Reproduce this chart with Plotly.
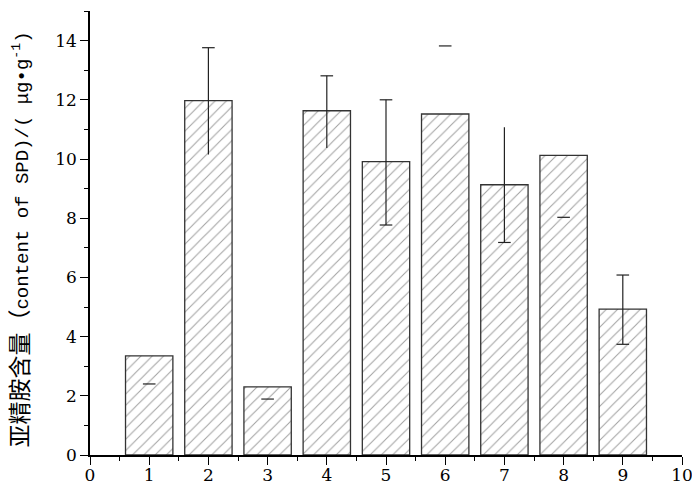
import plotly.graph_objects as go

# Data
samples = [1, 2, 3, 4, 5, 6, 7, 8, 9]
spd_content = [3.35, 11.97, 2.30, 11.63, 9.91, 11.52, 9.13, 10.12, 4.93]
# visible whisker segments (low, high); None = no whisker drawn
whisker_low = [None, 10.15, None, 10.37, 7.77, None, 7.18, None, 3.74]
whisker_high = [None, 13.76, None, 12.81, 12.00, None, 11.07, None, 6.08]
# visible error-bar caps (sample, value)
cap_x = [1, 2, 3, 4, 5, 5, 6, 7, 8, 9, 9]
cap_y = [2.40, 13.76, 1.89, 12.81, 12.00, 7.77, 13.82, 7.18, 8.03, 6.08, 3.74]

x_ticks = list(range(0, 11))
y_ticks = list(range(0, 15, 2))

fig = go.Figure()

fig.add_trace(go.Bar(
    x=samples, y=spd_content, width=0.8,
    marker=dict(color="white",
                line=dict(color="#333333", width=1.3),
                pattern=dict(shape="/", fgcolor="#444444", bgcolor="white",
                             size=8, solidity=0.13)),
    showlegend=False,
))

wx, wy = [], []
for s, lo, hi in zip(samples, whisker_low, whisker_high):
    if lo is None or hi is None:
        continue
    wx += [s, s, None]
    wy += [lo, hi, None]
fig.add_trace(go.Scatter(x=wx, y=wy, mode="lines",
                         line=dict(color="#222222", width=1.2),
                         showlegend=False, hoverinfo="skip"))
fig.add_trace(go.Scatter(x=cap_x, y=cap_y, mode="markers",
                         marker=dict(symbol="line-ew", size=9,
                                     line=dict(color="#222222", width=1.2)),
                         showlegend=False, hoverinfo="skip"))

tick_font = dict(family="DejaVu Serif", size=17, color="black")

fig.update_xaxes(range=[0, 10], tickvals=x_ticks, ticktext=[str(t) for t in x_ticks],
                 ticks="outside", ticklen=8, tickwidth=1.3, tickcolor="black",
                 minor=dict(dtick=0.5, tick0=0, ticks="outside", ticklen=4,
                            tickwidth=1.3, tickcolor="black"),
                 showline=True, linecolor="black", linewidth=1.5,
                 showgrid=False, zeroline=False, tickfont=tick_font,
                 ticklabelstandoff=-4, automargin=False)
fig.update_yaxes(range=[0, 15], tickvals=y_ticks, ticktext=[str(t) for t in y_ticks],
                 ticks="outside", ticklen=8, tickwidth=1.3, tickcolor="black",
                 minor=dict(dtick=1, tick0=0, ticks="outside", ticklen=4,
                            tickwidth=1.3, tickcolor="black"),
                 showline=True, linecolor="black", linewidth=1.5,
                 showgrid=False, zeroline=False, tickfont=tick_font,
                 automargin=False)

fig.add_annotation(
    text='<span style="font-size:23px">亚精胺含量（</span>content of SPD)/( μg•g<sup>-1</sup>)',
    xref="paper", yref="paper", x=-0.116, y=0.486,
    xanchor="center", yanchor="middle", textangle=-90, showarrow=False,
    font=dict(family="Liberation Mono, Noto Sans CJK SC", size=19, color="black"),
)

# page body adds an 8px offset, so the figure is 8px smaller and margins shifted
fig.update_layout(
    width=692, height=476,
    margin=dict(l=82, r=18, t=3, b=29),
    plot_bgcolor="white", paper_bgcolor="white",
    bargap=0.2,
)

fig.write_html("out.html")
